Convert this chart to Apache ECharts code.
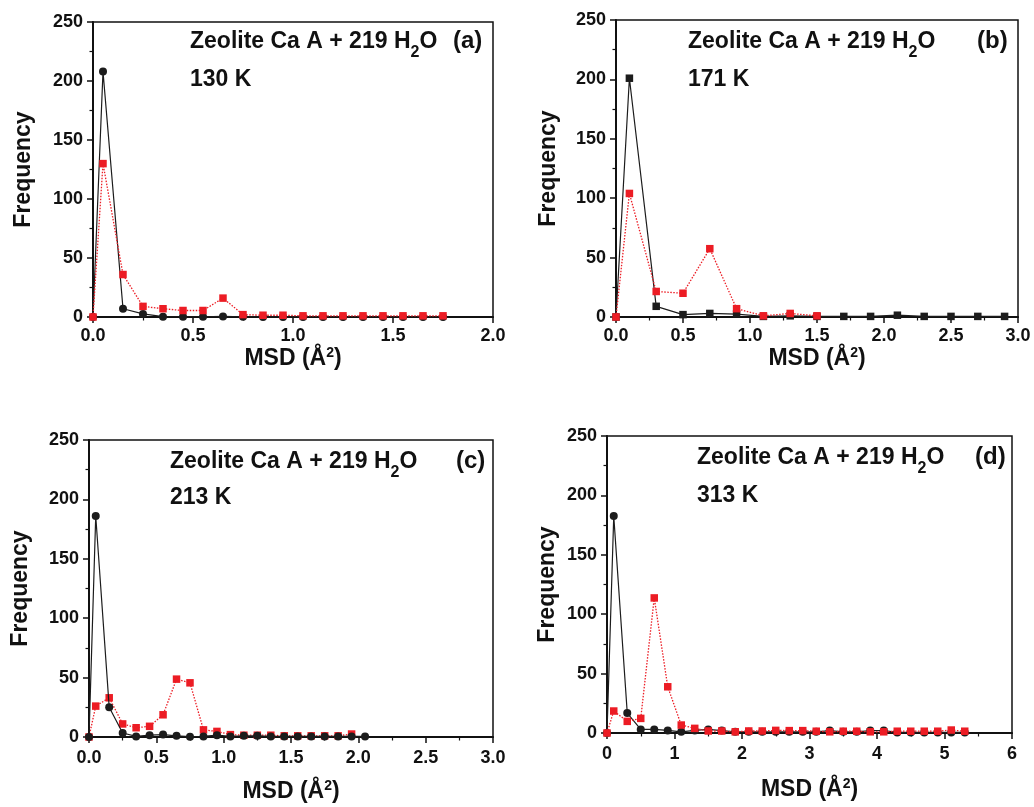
<!DOCTYPE html>
<html><head><meta charset="utf-8">
<script src="https://cdn.jsdelivr.net/npm/echarts@6/dist/echarts.min.js"></script>
<style>html,body{margin:0;padding:0;background:#fff}#c{width:1034px;height:807px}</style>
</head><body><div id="c"></div>
<script>
// ---- Data ----
const xA = [0, 0.05, 0.15, 0.25, 0.35, 0.45, 0.55, 0.65, 0.75, 0.85, 0.95, 1.05, 1.15, 1.25, 1.35, 1.45, 1.55, 1.65, 1.75];
const blackA = [0, 208, 7, 2.6, 0.3, 0.2, 0.2, 0.5, 0.2, 0.1, 0.1, 0.1, 0, 0, 0, 0, 0, 0, 0];
const redA = [0, 130, 36, 9, 7, 5.5, 5.5, 16, 2, 1.5, 1.5, 1, 1, 1, 1, 1, 1, 1, 1];

const xB = [0, 0.1, 0.3, 0.5, 0.7, 0.9, 1.1, 1.3, 1.5, 1.7, 1.9, 2.1, 2.3, 2.5, 2.7, 2.9];
const blackB = [0, 201, 9, 2, 3, 2.5, 0.5, 1, 0.5, 0.5, 0.5, 1.5, 0.5, 0.5, 0.5, 0.5];
const xBred = [0, 0.1, 0.3, 0.5, 0.7, 0.9, 1.1, 1.3, 1.5];
const redB = [0, 104, 21.5, 20, 57.5, 7, 1, 3, 1];

const xC = [0, 0.05, 0.15, 0.25, 0.35, 0.45, 0.55, 0.65, 0.75, 0.85, 0.95, 1.05, 1.15, 1.25, 1.35, 1.45, 1.55, 1.65, 1.75, 1.85, 1.95, 2.05];
const blackC = [0, 186, 25, 3.4, 0.5, 1.5, 2, 1, 0.3, 0.5, 1.5, 0.5, 1, 1, 0.5, 0.5, 0.5, 0.5, 0.5, 0.5, 0.5, 0.5];
const xCred = [0, 0.05, 0.15, 0.25, 0.35, 0.45, 0.55, 0.65, 0.75, 0.85, 0.95, 1.05, 1.15, 1.25, 1.35, 1.45, 1.55, 1.65, 1.75, 1.85, 1.95];
const redC = [0, 26, 33, 11, 7.8, 9, 18.7, 48.7, 45.6, 6, 4.7, 2, 1.5, 1.5, 1.5, 1, 1, 1, 1, 1, 2.5];

const xD = [0, 0.1, 0.3, 0.5, 0.7, 0.9, 1.1, 1.3, 1.5, 1.7, 1.9, 2.1, 2.3, 2.5, 2.7, 2.9, 3.1, 3.3, 3.5, 3.7, 3.9, 4.1, 4.3, 4.5, 4.7, 4.9, 5.1, 5.3];
const blackD = [0, 182.6, 16.8, 3, 3, 2.2, 1, 2.2, 3, 2, 1, 1, 1, 1, 1, 1, 1, 2, 1, 1, 2, 2, 0.5, 0.5, 0.5, 0.5, 0.5, 0.5];
const redD = [0, 18.5, 9.8, 12.3, 113.7, 38.9, 6.7, 3.9, 1.7, 1.7, 1, 1.7, 1.7, 2.2, 2, 2, 1.5, 1, 1.5, 1.5, 1, 1, 1.5, 1.5, 1.5, 1.5, 2.5, 1.5];

const yTicks = [0, 50, 100, 150, 200, 250];
const panelLabels = ['(a)', '(b)', '(c)', '(d)'];
const temps = ['130 K', '171 K', '213 K', '313 K'];
const sampleText = 'Zeolite Ca A + 219 H';

// ---- Build ----
const pair = (xs, ys) => xs.map((x, i) => [x, ys[i]]);
const RED = '#ec1c24', BLK = '#1c1c1c';
const FONT = 'Liberation Sans, Arial, sans-serif';

const grids = [
  {left: 93, top: 22, width: 400, height: 295},
  {left: 616, top: 20, width: 402, height: 297},
  {left: 89, top: 440, width: 404, height: 297},
  {left: 607, top: 436, width: 405, height: 297}
];
const xRanges = [[0, 2, 0.5], [0, 3, 0.5], [0, 3, 0.5], [0, 6, 1]];
const yNameGaps = [58, 56, 57, 48];
const xNameGaps = [20, 20, 42, 44];
const xLabelMargins = [10, 10, 12, 12];

const axisNameRich = {
  a: {fontSize: 23, fontWeight: 'bold', fontFamily: FONT, color: '#111', lineHeight: 26},
  sup: {fontSize: 14, fontWeight: 'bold', fontFamily: FONT, color: '#111', lineHeight: 14, verticalAlign: 'top'}
};

const xAxis = xRanges.map((r, i) => ({
  type: 'value', gridIndex: i, min: r[0], max: r[1], interval: r[2],
  name: '{a|MSD (Å}{sup|2}{a|)}', nameLocation: 'middle', nameGap: xNameGaps[i],
  nameTextStyle: {rich: axisNameRich},
  axisLine: {lineStyle: {color: '#111', width: 2}},
  axisTick: {inside: false, length: 6, lineStyle: {color: '#111', width: 1.5}},
  minorTick: {show: true, splitNumber: 2, length: 3.5, lineStyle: {color: '#111', width: 1.2}},
  splitLine: {show: false},
  axisLabel: {fontSize: 18, fontWeight: 'bold', fontFamily: FONT, color: '#111', margin: xLabelMargins[i],
    formatter: v => i === 3 ? String(Math.round(v)) : v.toFixed(1)}
}));

const yAxis = grids.map((g, i) => ({
  type: 'value', gridIndex: i, min: yTicks[0], max: yTicks[yTicks.length - 1], interval: yTicks[1] - yTicks[0],
  name: 'Frequency', nameLocation: 'middle', nameGap: yNameGaps[i],
  nameTextStyle: {fontSize: 23, fontWeight: 'bold', fontFamily: FONT, color: '#111'},
  axisLine: {show: true, lineStyle: {color: '#111', width: 2}},
  axisTick: {show: true, inside: false, length: 6, lineStyle: {color: '#111', width: 1.5}},
  minorTick: {show: true, splitNumber: 2, length: 3.5, lineStyle: {color: '#111', width: 1.2}},
  splitLine: {show: false},
  axisLabel: {fontSize: 18, fontWeight: 'bold', fontFamily: FONT, color: '#111', margin: 10}
}));

function blackSeries(i, data, symbol) {
  return {type: 'line', xAxisIndex: i, yAxisIndex: i, data, symbol, symbolSize: symbol === 'rect' ? 7.5 : 8,
    lineStyle: {color: BLK, width: 1.2}, itemStyle: {color: BLK}, animation: false, z: 2};
}
function redSeries(i, data) {
  return {type: 'line', xAxisIndex: i, yAxisIndex: i, data, symbol: 'rect', symbolSize: 7.5,
    lineStyle: {color: RED, width: 1.3, type: [1.5, 1.5]}, itemStyle: {color: RED}, animation: false, z: 3};
}

const series = [
  blackSeries(0, pair(xA, blackA), 'circle'),
  redSeries(0, pair(xA, redA)),
  blackSeries(1, pair(xB, blackB), 'rect'),
  redSeries(1, pair(xBred, redB)),
  Object.assign(redSeries(2, pair(xCred, redC)), {z: 2}),
  Object.assign(blackSeries(2, pair(xC, blackC), 'circle'), {z: 3}),
  blackSeries(3, pair(xD, blackD), 'circle'),
  redSeries(3, pair(xD, redD))
];

const textPos = [
  {x: 190, y: 42, tx: 190, ty: 80, lx: 453, ly: 41},
  {x: 688, y: 42, tx: 688, ty: 80, lx: 977, ly: 41},
  {x: 170, y: 462, tx: 170, ty: 498, lx: 456, ly: 461},
  {x: 697, y: 458, tx: 697, ty: 496, lx: 975, ly: 457}
];
const annRich = {
  m: {fontSize: 23, fontWeight: 'bold', fontFamily: FONT, fill: '#111', color: '#111', lineHeight: 38},
  s: {fontSize: 16, fontWeight: 'bold', fontFamily: FONT, fill: '#111', color: '#111', lineHeight: 16, verticalAlign: 'bottom'}
};
const graphic = [];
textPos.forEach((p, i) => {
  graphic.push({type: 'text', x: p.x, y: p.y, style: {text: '{m|' + sampleText + '}{s|2}{m|O}', rich: annRich, verticalAlign: 'middle', align: 'left'}});
  graphic.push({type: 'text', x: p.tx, y: p.ty, style: {text: temps[i], font: 'bold 23px ' + FONT, fill: '#111', verticalAlign: 'middle', align: 'left'}});
  graphic.push({type: 'text', x: p.lx, y: p.ly, style: {text: panelLabels[i], font: 'bold 24px ' + FONT, fill: '#111', verticalAlign: 'middle', align: 'left'}});
});

const chart = echarts.init(document.getElementById('c'), null, {renderer: 'canvas'});
chart.setOption({
  animation: false,
  backgroundColor: '#fff',
  grid: grids.map(g => Object.assign({show: true, borderColor: '#111', borderWidth: 1.5, backgroundColor: 'transparent'}, g)),
  xAxis, yAxis, series, graphic
});
</script></body></html>
